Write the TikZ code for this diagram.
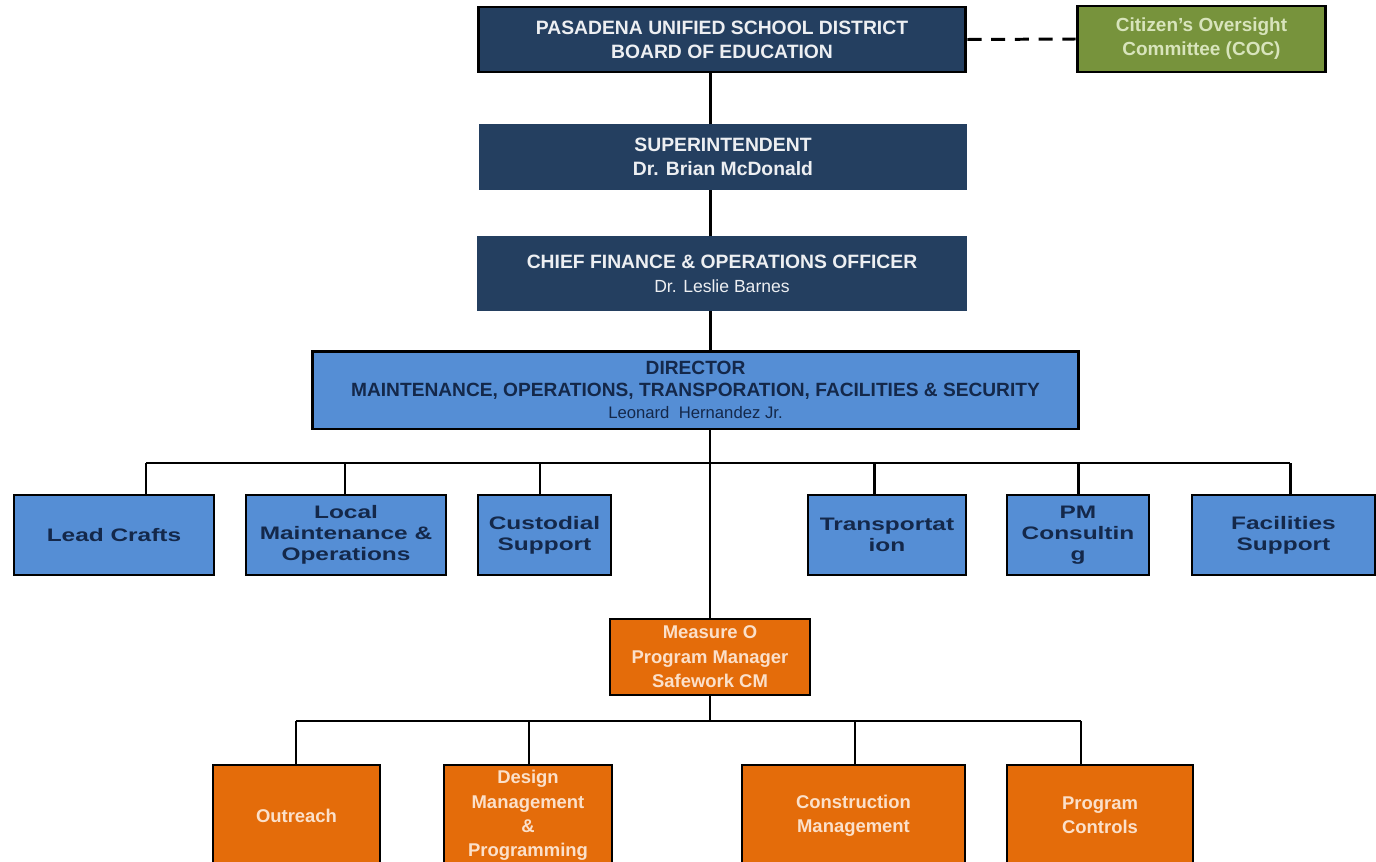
\documentclass[tikz,border=0pt]{standalone}
\usepackage{fontspec}
\setmainfont{Liberation Sans}
\newfontfamily\widefont[FakeStretch=1.35]{Liberation Sans}
\definecolor{navy}{HTML}{243F60}
\definecolor{paletext}{HTML}{EDEFF2}
\definecolor{cocgreen}{HTML}{77933C}
\definecolor{coctext}{HTML}{D8E4BC}
\definecolor{midblue}{HTML}{558ED5}
\definecolor{darktext}{HTML}{14284A}
\definecolor{deptorange}{HTML}{E46C0A}
\definecolor{peachtext}{HTML}{FBE0CA}
\tikzset{
  topbox/.style={shape=rectangle, fill=navy, text=paletext, align=center, inner sep=0pt,
    font=\bfseries\fontsize{11}{13.6}\selectfont},
  bluebox/.style={shape=rectangle, fill=midblue, draw=black, line width=1.6pt, align=center,
    inner sep=0pt, text=darktext, font=\widefont\bfseries\fontsize{10.3}{12}\selectfont},
  orangebox/.style={shape=rectangle, fill=deptorange, draw=black, line width=1.6pt, align=center,
    inner sep=0pt, text=peachtext, font=\bfseries\fontsize{10.5}{13.9}\selectfont},
  spineline/.style={-, line width=1.7pt, draw=black},
  busline/.style={-, line width=1.1pt, draw=black},
  thinline/.style={-, line width=0.85pt, draw=black}
}
\begin{document}
\begin{tikzpicture}[x=0.02cm, y=-0.02cm]
\useasboundingbox (0,0) rectangle (1376,862);
\clip (0,0) rectangle (1376,862);
\fill[white] (0,0) rectangle (1376,862);
% top of the chart
\node[topbox, draw=black, line width=1.7pt, minimum width=9.76cm, minimum height=1.3cm] (board) at (722,39.5) {PASADENA UNIFIED SCHOOL DISTRICT\\BOARD OF EDUCATION};
\node[shape=rectangle, fill=cocgreen, draw=black, line width=1.7pt, text=coctext, align=center, inner sep=0pt, font=\bfseries\fontsize{10.8}{13.6}\selectfont, minimum width=4.98cm, minimum height=1.32cm] (coc) at (1201.5,39) {Citizen's Oversight\\Committee (COC)};
\node[topbox, minimum width=9.76cm, minimum height=1.32cm] (super) at (723,157) {SUPERINTENDENT\\Dr. Brian McDonald};
\node[topbox, minimum width=9.8cm, minimum height=1.5cm] (cfo) at (722,273.5) {CHIEF FINANCE \& OPERATIONS OFFICER\\{\mdseries\fontsize{10}{13.6}\selectfont Dr. Leslie Barnes}};
\node[shape=rectangle, fill=midblue, draw=black, line width=1.7pt, text=darktext, align=center, inner sep=0pt, font=\bfseries\fontsize{10.9}{12.4}\selectfont, minimum width=15.34cm, minimum height=1.56cm] (dir) at (695.5,390) {DIRECTOR\\MAINTENANCE, OPERATIONS, TRANSPORATION, FACILITIES \& SECURITY\\{\mdseries\fontsize{9.5}{12.4}\selectfont Leonard\ \ Hernandez Jr.}};
% departments
\node[bluebox, minimum width=4cm, minimum height=1.6cm] (lead) at (114,535) {Lead Crafts};
\node[bluebox, minimum width=4cm, minimum height=1.6cm] (local) at (346,535) {Local\\Maintenance \&\\Operations};
\node[bluebox, minimum width=2.66cm, minimum height=1.6cm] (cust) at (544.5,535) {Custodial\\Support};
\node[bluebox, minimum width=3.16cm, minimum height=1.6cm] (trans) at (887,535) {Transportat\\ion};
\node[bluebox, minimum width=2.84cm, minimum height=1.6cm] (pm) at (1078,535) {PM\\Consultin\\g};
\node[bluebox, minimum width=3.66cm, minimum height=1.6cm] (fac) at (1283.5,535) {Facilities\\Support};
% measure O
\node[orangebox, minimum width=4cm, minimum height=1.52cm] (mgr) at (710,657) {Measure O\\Program Manager\\Safework CM};
\node[orangebox, minimum width=3.34cm, minimum height=2.02cm] (out) at (296.5,815.5) {Outreach};
\node[orangebox, minimum width=3.36cm, minimum height=2.02cm] (des) at (528,815.5) {Design\\Management\\\&\\Programming};
\node[orangebox, minimum width=4.46cm, minimum height=2.02cm] (con) at (853.5,815.5) {Construction\\Management};
\node[orangebox, minimum width=3.72cm, minimum height=2.02cm] (ctl) at (1100,815.5) {Program\\Controls};
% connectors
\coordinate (spine) at (710,0);
\path [draw=black, line width=1.7pt, dash pattern=on 8pt off 5.5pt] (board.east) edge (coc.west);
\path [spineline] (board.south -| spine) edge (super.north -| spine);
\path [spineline] (super.south -| spine) edge (cfo.north -| spine);
\path [spineline] (cfo.south -| spine) edge (dir.north -| spine);
\path [thinline] (mgr.north |- dir.south) edge (mgr.north);
\coordinate (b1) at (146,463);
\coordinate (b2) at (345,463);
\coordinate (b3) at (540,463);
\coordinate (b4) at (874,463);
\coordinate (b5) at (1078,463);
\coordinate (b6) at (1290,463);
\path [busline] (b1) edge (b6);
\path [spineline] (b1) edge (b1 |- lead.north);
\path [spineline] (b2) edge (b2 |- local.north);
\path [spineline] (b3) edge (b3 |- cust.north);
\path [spineline] (b4) edge (b4 |- trans.north);
\path [spineline] (b5) edge (b5 |- pm.north);
\path [spineline] (b6) edge (b6 |- fac.north);
\coordinate (o1) at (296,721);
\coordinate (o2) at (529,721);
\coordinate (o3) at (855,721);
\coordinate (o4) at (1081,721);
\path [thinline] (mgr.south) edge (mgr.south |- o1);
\path [thinline] (o1) edge (o4);
\path [thinline] (o1) edge (o1 |- out.north);
\path [thinline] (o2) edge (o2 |- des.north);
\path [thinline] (o3) edge (o3 |- con.north);
\path [thinline] (o4) edge (o4 |- ctl.north);
\end{tikzpicture}
\end{document}
